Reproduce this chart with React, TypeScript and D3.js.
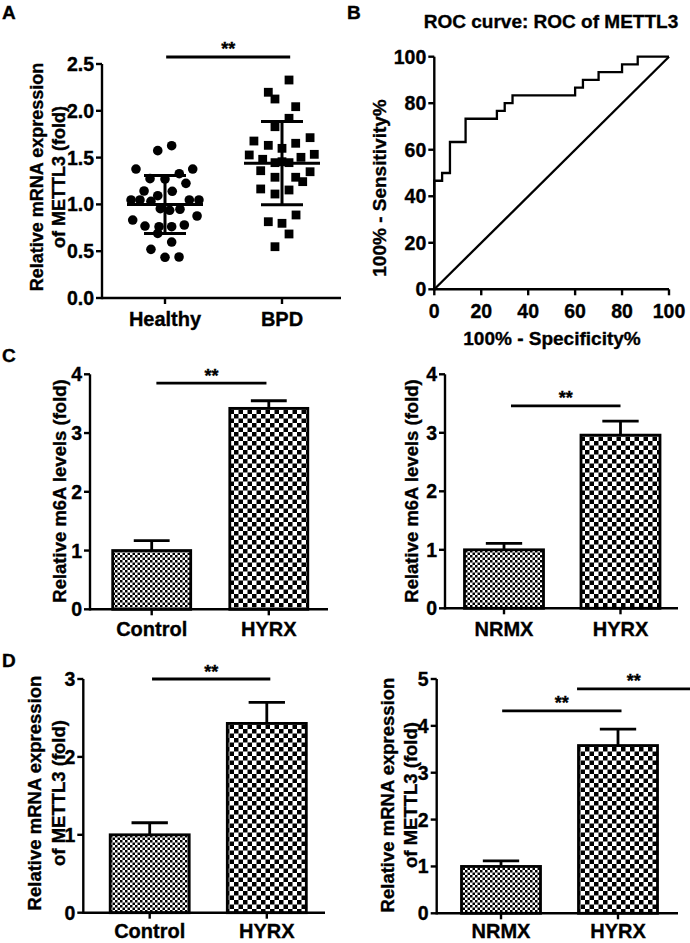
import React from 'react';
import * as d3 from 'd3';

const FONT = '"Liberation Sans", Arial, Helvetica, sans-serif';
const TS = { stroke: '#000', strokeWidth: 0.35 } as const;

// ---------- Panel A data ----------
const scatterGroups = ['Healthy', 'BPD'];
const healthyValues = [1.574, 1.627, 1.378, 1.378, 1.275, 1.328, 1.271, 1.225, 1.143, 1.14, 1.093, 1.047, 1.047, 1.033, 1.047, 1.047, 0.954, 0.937, 0.948, 0.876, 0.833, 0.769, 0.762, 0.762, 0.78, 0.69, 0.598, 0.52, 0.435, 0.438];
const healthyOffsets = [-0.062, 0.057, -0.248, 0.237, -0.128, 0.122, 0, 0.179, -0.179, 0.062, -0.062, -0.29, -0.214, -0.12, 0.208, 0.29, -0.04, 0.04, 0.128, 0.274, -0.276, -0.171, -0.051, 0.057, 0.165, -0.062, 0.057, -0.12, 0, 0.12];
const bpdValues = [2.329, 2.198, 2.126, 2.044, 1.92, 1.83, 1.677, 1.713, 1.631, 1.653, 1.599, 1.528, 1.535, 1.482, 1.503, 1.446, 1.446, 1.456, 1.36, 1.349, 1.29, 1.29, 1.243, 1.165, 1.111, 1.154, 0.887, 0.815, 0.798, 0.684, 0.548];
const bpdOffsets = [0.06, -0.117, -0.06, 0.117, 0.06, -0.06, -0.24, 0.24, -0.117, 0.117, 0, -0.28, 0.276, -0.165, 0.162, -0.06, 0.06, 0, -0.182, 0.24, -0.06, 0.117, 0.177, -0.182, -0.06, 0.06, 0.12, -0.117, 0, 0.06, -0.06];
const scatterMean = [1.0, 1.44];
const scatterSd = [0.31, 0.445];
const scatterTicks = [0, 0.5, 1.0, 1.5, 2.0, 2.5];

// ---------- Panel B data ----------
const rocFpr = [0, 0, 3.33, 6.67, 13.33, 26.67, 30, 33.33, 60, 63.33, 70, 80, 86.67, 100];
const rocTpr = [0, 46.67, 50, 63.33, 73.33, 76.67, 80, 83.33, 86.67, 90, 93.33, 96.67, 100, 100];
const rocTicks = [0, 20, 40, 60, 80, 100];

// ---------- Panel C / D data ----------
const cLeftGroups = ['Control', 'HYRX'];
const cLeftMeans = [1.0, 3.42];
const cLeftErrs = [0.17, 0.13];
const cRightGroups = ['NRMX', 'HYRX'];
const cRightMeans = [1.0, 2.96];
const cRightErrs = [0.11, 0.24];
const dLeftGroups = ['Control', 'HYRX'];
const dLeftMeans = [1.0, 2.43];
const dLeftErrs = [0.155, 0.27];
const dRightGroups = ['NRMX', 'HYRX'];
const dRightMeans = [1.0, 3.58];
const dRightErrs = [0.12, 0.35];
const ticks4 = [0, 1, 2, 3, 4];
const ticks3 = [0, 1, 2, 3];
const ticks5 = [0, 1, 2, 3, 4, 5];

type Sig = { from: number; to: number; y: number };

function YTicks({ y, ticks, x, fmt }: { y: d3.ScaleLinear<number, number>; ticks: number[]; x: number; fmt: (v: number) => string }) {
  return (
    <g>
      {ticks.map((t) => (
        <g key={t}>
          <line x1={x - 6} x2={x} y1={y(t)} y2={y(t)} stroke="#000" strokeWidth={2.4} />
          <text x={x - 8} y={y(t)} dy="0.36em" textAnchor="end" fontSize={19.5} fontWeight="bold" fontFamily={FONT} {...TS}>
            {fmt(t)}
          </text>
        </g>
      ))}
    </g>
  );
}

function YTitle({ lines, y, size }: { lines: { text: string; x: number }[]; y: number; size: number }) {
  return (
    <g>
      {lines.map((l, i) => (
        <text key={i} transform={`translate(${l.x},${y}) rotate(-90)`} textAnchor="middle" fontSize={size} fontWeight="bold" fontFamily={FONT} {...TS}>
          {l.text}
        </text>
      ))}
    </g>
  );
}

function SigLines({ sigs, ix, y }: { sigs: Sig[]; ix: d3.ScaleLinear<number, number>; y: d3.ScaleLinear<number, number> }) {
  return (
    <g>
      {sigs.map((s, i) => (
        <g key={i}>
          <line x1={ix(s.from)} x2={ix(s.to)} y1={y(s.y)} y2={y(s.y)} stroke="#000" strokeWidth={2.8} />
          <text x={(ix(s.from) + ix(s.to)) / 2} y={y(s.y) - 1.5} textAnchor="middle" fontSize={18} fontWeight="bold" fontFamily={FONT} {...TS}>
            **
          </text>
        </g>
      ))}
    </g>
  );
}

type BarProps = {
  groups: string[];
  means: number[];
  errs: number[];
  ticks: number[];
  axisX0: number;
  axisX1: number;
  c1: number;
  c2: number;
  y0: number;
  yTopPx: number;
  barWidth: number;
  labelDy: number;
  titleLines: { text: string; x: number }[];
  titleY: number;
  sigs: Sig[];
};

function BarPanel(p: BarProps) {
  const yMax = p.ticks[p.ticks.length - 1];
  const y = d3.scaleLinear().domain([0, yMax]).range([p.y0, p.yTopPx]);
  const step = p.c2 - p.c1;
  const pi = 1 - p.barWidth / step;
  const xb = d3
    .scaleBand<string>()
    .domain(p.groups)
    .range([p.c1 - step / 2, p.c2 + step / 2])
    .paddingInner(pi)
    .paddingOuter(pi / 2);
  const ix = d3.scaleLinear().domain([0, 1]).range([p.c1, p.c2]);
  const fills = ['url(#fineChk)', 'url(#coarseChk)'];
  const capW = p.barWidth * 0.46;
  return (
    <g>
      {p.groups.map((g, i) => {
        const cx = (xb(g) as number) + xb.bandwidth() / 2;
        const top = y(p.means[i]);
        const et = y(p.means[i] + p.errs[i]);
        return (
          <g key={g}>
            <line x1={cx} x2={cx} y1={top} y2={et} stroke="#000" strokeWidth={2.8} />
            <line x1={cx - capW / 2} x2={cx + capW / 2} y1={et} y2={et} stroke="#000" strokeWidth={2.8} />
            <rect x={xb(g)} y={top} width={xb.bandwidth()} height={p.y0 - top} fill={fills[i]} stroke="#000" strokeWidth={2.8} />
          </g>
        );
      })}
      <line x1={p.axisX0} x2={p.axisX0} y1={p.y0 + 1.2} y2={p.yTopPx} stroke="#000" strokeWidth={2.4} />
      <line x1={p.axisX0} x2={p.axisX1} y1={p.y0} y2={p.y0} stroke="#000" strokeWidth={2.4} />
      <YTicks y={y} ticks={p.ticks} x={p.axisX0} fmt={(v) => d3.format('d')(v)} />
      {p.groups.map((g) => {
        const cx = (xb(g) as number) + xb.bandwidth() / 2;
        return (
          <g key={g}>
            <line x1={cx} x2={cx} y1={p.y0} y2={p.y0 + 6} stroke="#000" strokeWidth={2.4} />
            <text x={cx} y={p.y0 + p.labelDy} textAnchor="middle" fontSize={20} fontWeight="bold" fontFamily={FONT} {...TS}>
              {g}
            </text>
          </g>
        );
      })}
      <YTitle lines={p.titleLines} y={p.titleY} size={18.5} />
      <SigLines sigs={p.sigs} ix={ix} y={y} />
    </g>
  );
}

function ScatterPanel() {
  const y = d3.scaleLinear().domain([0, 2.5]).range([298, 64]);
  const ix = d3.scaleLinear().domain([0, 1]).range([165, 282]);
  const xp = d3.scalePoint<string>().domain(scatterGroups).range([165, 282]);
  const healthy = healthyValues.map((v, i) => ({ v, o: healthyOffsets[i] }));
  const bpd = bpdValues.map((v, i) => ({ v, o: bpdOffsets[i] }));
  const sq = 8.8;
  return (
    <g>
      {healthy.map((d, i) => (
        <circle key={i} cx={ix(d.o)} cy={y(d.v)} r={4.8} fill="#000" />
      ))}
      {bpd.map((d, i) => (
        <rect key={i} x={ix(1 + d.o) - sq / 2} y={y(d.v) - sq / 2} width={sq} height={sq} fill="#000" />
      ))}
      {scatterGroups.map((g, i) => {
        const cx = xp(g) as number;
        return (
          <g key={g}>
            <line x1={cx - 38} x2={cx + 38} y1={y(scatterMean[i])} y2={y(scatterMean[i])} stroke="#000" strokeWidth={3} />
            <line x1={cx} x2={cx} y1={y(scatterMean[i] - scatterSd[i])} y2={y(scatterMean[i] + scatterSd[i])} stroke="#000" strokeWidth={3} />
            <line x1={cx - 21} x2={cx + 21} y1={y(scatterMean[i] + scatterSd[i])} y2={y(scatterMean[i] + scatterSd[i])} stroke="#000" strokeWidth={3} />
            <line x1={cx - 21} x2={cx + 21} y1={y(scatterMean[i] - scatterSd[i])} y2={y(scatterMean[i] - scatterSd[i])} stroke="#000" strokeWidth={3} />
            <line x1={cx} x2={cx} y1={298} y2={304} stroke="#000" strokeWidth={2.4} />
            <text x={cx} y={326} textAnchor="middle" fontSize={20} fontWeight="bold" fontFamily={FONT} {...TS}>
              {g}
            </text>
          </g>
        );
      })}
      <line x1={102} x2={102} y1={299.2} y2={64} stroke="#000" strokeWidth={2.4} />
      <line x1={102} x2={341} y1={298} y2={298} stroke="#000" strokeWidth={2.4} />
      <YTicks y={y} ticks={scatterTicks} x={102} fmt={d3.format('.1f')} />
      <YTitle
        lines={[
          { text: 'Relative mRNA expression', x: 43 },
          { text: 'of METTL3 (fold)', x: 65 },
        ]}
        y={177}
        size={18}
      />
      <SigLines sigs={[{ from: 0.01, to: 1.07, y: 2.575 }]} ix={ix} y={y} />
    </g>
  );
}

function RocPanel() {
  const x = d3.scaleLinear().domain([0, 100]).range([434.3, 669]);
  const y = d3.scaleLinear().domain([0, 100]).range([289.3, 56.7]);
  const pts = rocFpr.map((f, i) => [f, rocTpr[i]] as [number, number]);
  const line = d3
    .line<[number, number]>()
    .x((d) => x(d[0]))
    .y((d) => y(d[1]))
    .curve(d3.curveStepAfter);
  return (
    <g>
      <path d={line(pts) || ''} fill="none" stroke="#000" strokeWidth={2.3} />
      <line x1={x(0)} y1={y(0)} x2={x(100)} y2={y(100)} stroke="#000" strokeWidth={2.3} />
      <line x1={x(0)} x2={x(0)} y1={y(0) + 1.2} y2={y(100)} stroke="#000" strokeWidth={2.4} />
      <line x1={x(0)} x2={x(100)} y1={y(0)} y2={y(0)} stroke="#000" strokeWidth={2.4} />
      <YTicks y={y} ticks={rocTicks} x={x(0)} fmt={d3.format('d')} />
      {rocTicks.map((t) => (
        <g key={t}>
          <line x1={x(t)} x2={x(t)} y1={y(0)} y2={y(0) + 6} stroke="#000" strokeWidth={2.4} />
          <text x={x(t)} y={318} textAnchor="middle" fontSize={19.5} fontWeight="bold" fontFamily={FONT} {...TS}>
            {t}
          </text>
        </g>
      ))}
      <text x={551} y={28} textAnchor="middle" fontSize={19} fontWeight="bold" fontFamily={FONT} {...TS}>
        ROC curve: ROC of METTL3
      </text>
      <text x={552} y={345} textAnchor="middle" fontSize={19} fontWeight="bold" fontFamily={FONT} {...TS}>
        100% - Specificity%
      </text>
      <YTitle lines={[{ text: '100% - Sensitivity%', x: 386 }]} y={188} size={19} />
    </g>
  );
}

export default function App() {
  return (
    <svg width={690} height={943} style={{ position: 'absolute', left: 0, top: 0, background: '#fff' }} xmlns="http://www.w3.org/2000/svg">
      <defs>
        <pattern id="fineChk" patternUnits="userSpaceOnUse" width={5} height={5}>
          <rect width={5} height={5} fill="#fff" />
          <rect x={0} y={0} width={2.5} height={2.5} fill="#000" />
          <rect x={2.5} y={2.5} width={2.5} height={2.5} fill="#000" />
        </pattern>
        <pattern id="coarseChk" patternUnits="userSpaceOnUse" width={9} height={9}>
          <rect width={9} height={9} fill="#fff" />
          <rect x={0} y={0} width={4.5} height={4.5} fill="#000" />
          <rect x={4.5} y={4.5} width={4.5} height={4.5} fill="#000" />
        </pattern>
      </defs>
      <rect width={690} height={943} fill="#fff" />
      <g fontFamily={FONT} fontWeight="bold" {...TS}>
        <text x={2} y={19} fontSize={19}>A</text>
        <text x={347} y={19} fontSize={19}>B</text>
        <text x={2} y={362} fontSize={19}>C</text>
        <text x={2} y={667} fontSize={19}>D</text>
      </g>
      <ScatterPanel />
      <RocPanel />
      <BarPanel
        groups={cLeftGroups}
        means={cLeftMeans}
        errs={cLeftErrs}
        ticks={ticks4}
        axisX0={90}
        axisX1={328}
        c1={151.7}
        c2={268.8}
        y0={609.3}
        yTopPx={374.3}
        barWidth={78}
        labelDy={27}
        titleLines={[{ text: 'Relative m6A levels (fold)', x: 66 }]}
        titleY={491}
        sigs={[{ from: 0.04, to: 0.98, y: 3.85 }]}
      />
      <BarPanel
        groups={cRightGroups}
        means={cRightMeans}
        errs={cRightErrs}
        ticks={ticks4}
        axisX0={445}
        axisX1={678}
        c1={504}
        c2={620.5}
        y0={608.3}
        yTopPx={374.3}
        barWidth={79}
        labelDy={27.5}
        titleLines={[{ text: 'Relative m6A levels (fold)', x: 418 }]}
        titleY={491}
        sigs={[{ from: 0.06, to: 1.0, y: 3.46 }]}
      />
      <BarPanel
        groups={dLeftGroups}
        means={dLeftMeans}
        errs={dLeftErrs}
        ticks={ticks3}
        axisX0={83.3}
        axisX1={325}
        c1={149.7}
        c2={266.8}
        y0={912.7}
        yTopPx={679}
        barWidth={79}
        labelDy={25}
        titleLines={[
          { text: 'Relative mRNA expression', x: 41 },
          { text: 'of METTL3 (fold)', x: 65 },
        ]}
        titleY={793}
        sigs={[{ from: 0.02, to: 1.03, y: 3.0 }]}
      />
      <BarPanel
        groups={dRightGroups}
        means={dRightMeans}
        errs={dRightErrs}
        ticks={ticks5}
        axisX0={436.7}
        axisX1={678}
        c1={501}
        c2={618}
        y0={913.3}
        yTopPx={679}
        barWidth={79}
        labelDy={24.5}
        titleLines={[
          { text: 'Relative mRNA expression', x: 394 },
          { text: 'of METTL3 (fold)', x: 417 },
        ]}
        titleY={795}
        sigs={[
          { from: 0.01, to: 1.03, y: 4.32 },
          { from: 0.65, to: 1.62, y: 4.79 },
        ]}
      />
    </svg>
  );
}
